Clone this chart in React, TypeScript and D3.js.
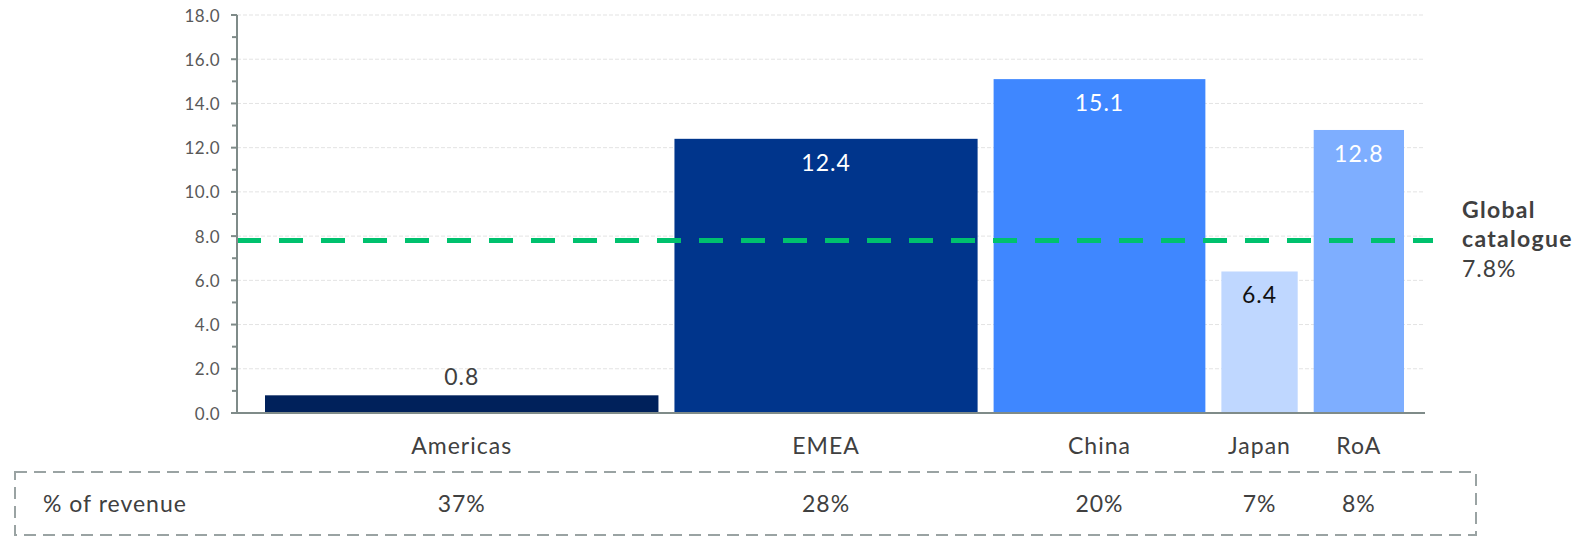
import React from "react";
import * as d3 from "d3";

const categories = ["Americas", "EMEA", "China", "Japan", "RoA"];
const values = [0.8, 12.4, 15.1, 6.4, 12.8];
const revenueShare = [36.6, 28.2, 19.7, 7.1, 8.4];
const shareLabels = ["37%", "28%", "20%", "7%", "8%"];
const barColors = ["#00215b", "#00358c", "#3f87ff", "#bfd7ff", "#7eaeff"];
const labelColors = ["#404040", "#ffffff", "#ffffff", "#111111", "#ffffff"];
const labelInside = [false, true, true, true, true];
const yTicks = [0, 2, 4, 6, 8, 10, 12, 14, 16, 18];
const yMinorTicks = [1, 3, 5, 7, 9, 11, 13, 15, 17];
const globalValue = 7.8;
const globalLabel = ["Global", "catalogue"];
const globalValueLabel = "7.8%";
const rowTitle = "% of revenue";

const W = 1592;
const H = 537;
const FONT = "Lato, 'Open Sans', sans-serif";
const LS = 1;

export default function App() {
  const axisX = 237;
  const plotRight = 1425;
  const y = d3.scaleLinear().domain([0, 18]).range([413, 15]);
  const gap = 16;
  const n = categories.length;
  const barsLeft = 265;
  const barsRight = 1404;
  const total = d3.sum(revenueShare);
  const x = d3
    .scaleLinear()
    .domain([0, total])
    .range([barsLeft, barsRight - gap * (n - 1)]);
  const cum = revenueShare.map((_, i) => d3.sum(revenueShare.slice(0, i)));
  const bars = categories.map((c, i) => {
    const x0 = x(cum[i]) + i * gap;
    const x1 = x(cum[i] + revenueShare[i]) + i * gap;
    return { c, v: values[i], x0, x1, cx: (x0 + x1) / 2, i };
  });
  const axisColor = "#7f8b89";

  return (
    <svg
      width={W}
      height={H}
      style={{ position: "absolute", left: 0, top: 0, background: "#fff" }}
      fontFamily={FONT}
    >
      {yTicks
        .filter((t) => t > 0)
        .map((t) => (
          <line
            key={"g" + t}
            x1={axisX}
            x2={plotRight}
            y1={y(t)}
            y2={y(t)}
            stroke="#e3e3e3"
            strokeWidth={1}
            strokeDasharray="4 2"
          />
        ))}
      {bars.map((b) => (
        <rect
          key={b.c}
          x={b.x0}
          y={y(b.v)}
          width={b.x1 - b.x0}
          height={y(0) - y(b.v)}
          fill={barColors[b.i]}
        />
      ))}
      {bars.map((b) => (
        <text
          key={"v" + b.c}
          x={b.cx}
          y={labelInside[b.i] ? y(b.v) + 23 : y(b.v) - 19}
          textAnchor="middle"
          dominantBaseline="central"
          fontSize={23}
          letterSpacing={LS}
          fill={labelColors[b.i]}
        >
          {b.v.toFixed(1)}
        </text>
      ))}
      <line
        x1={axisX}
        x2={1433}
        y1={y(globalValue)}
        y2={y(globalValue)}
        stroke="#00c16e"
        strokeWidth={5}
        strokeDasharray="24 18"
      />
      <text x={1462} y={209} fontSize={23} fontWeight="bold" letterSpacing={1.3} fill="#404040" dominantBaseline="central">
        {globalLabel[0]}
      </text>
      <text x={1462} y={238} fontSize={23} fontWeight="bold" letterSpacing={1.3} fill="#404040" dominantBaseline="central">
        {globalLabel[1]}
      </text>
      <text x={1462} y={268} fontSize={23} letterSpacing={LS} fill="#404040" dominantBaseline="central">
        {globalValueLabel}
      </text>
      <line x1={axisX} x2={axisX} y1={y(18)} y2={y(0)} stroke={axisColor} strokeWidth={2} />
      {yTicks.map((t) => (
        <g key={"t" + t}>
          <line x1={axisX - 6} x2={axisX} y1={y(t)} y2={y(t)} stroke={axisColor} strokeWidth={2} />
          <text
            x={220}
            y={y(t)}
            textAnchor="end"
            dominantBaseline="central"
            fontSize={17}
            letterSpacing={0.5}
            fill="#595959"
          >
            {t.toFixed(1)}
          </text>
        </g>
      ))}
      {yMinorTicks.map((t) => (
        <line key={"m" + t} x1={axisX - 5} x2={axisX} y1={y(t)} y2={y(t)} stroke={axisColor} strokeWidth={2} />
      ))}
      <line x1={axisX} x2={plotRight} y1={y(0)} y2={y(0)} stroke={axisColor} strokeWidth={2} />
      {bars.map((b) => (
        <text
          key={"c" + b.c}
          x={b.cx}
          y={445}
          textAnchor="middle"
          dominantBaseline="central"
          fontSize={23}
          letterSpacing={LS}
          fill="#404040"
        >
          {b.c}
        </text>
      ))}
      <rect
        x={15}
        y={472}
        width={1461}
        height={63}
        fill="none"
        stroke="#9aa3a3"
        strokeWidth={2}
        strokeDasharray="12 7"
      />
      <text x={43} y={503} fontSize={23} letterSpacing={LS} fill="#404040" dominantBaseline="central">
        {rowTitle}
      </text>
      {bars.map((b) => (
        <text
          key={"s" + b.c}
          x={b.cx}
          y={503}
          textAnchor="middle"
          dominantBaseline="central"
          fontSize={23}
          letterSpacing={LS}
          fill="#404040"
        >
          {shareLabels[b.i]}
        </text>
      ))}
    </svg>
  );
}
